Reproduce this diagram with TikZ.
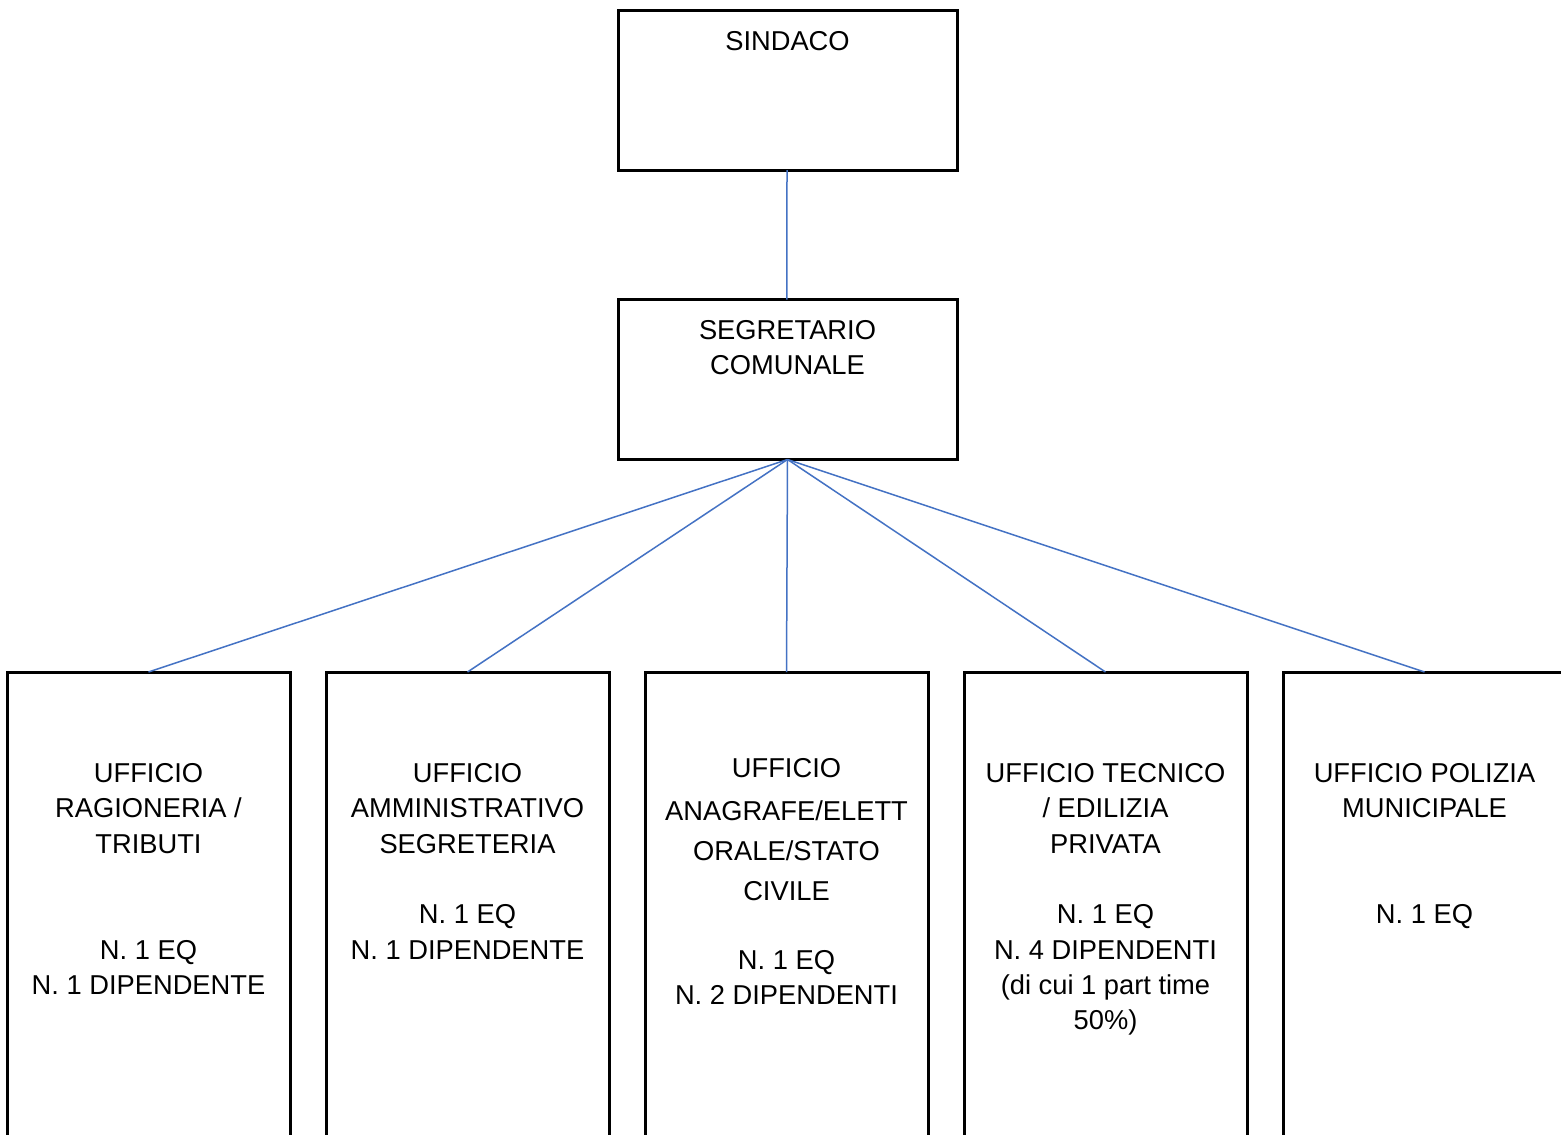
\documentclass[tikz,border=0pt]{standalone}
\usepackage{fontspec}
\setmainfont{Liberation Sans}
\definecolor{conncol}{HTML}{4472C4}
\begin{document}
\begin{tikzpicture}[x=1pt,y=-1pt,
  box/.style={draw=black, line width=3pt, rectangle, inner sep=0pt, outer sep=0pt, anchor=north west},
  topbox/.style={box, minimum width=339pt, minimum height=160pt},
  unitbox/.style={box, minimum width=283pt, minimum height=520pt},
  conn/.style={draw=conncol, line width=1.5pt},
  lbl/.style={align=center, inner sep=0pt, outer sep=0pt, anchor=north, font=\fontsize{27.3}{35.3}\selectfont}
]
\useasboundingbox (0,0) rectangle (1561,1135);
\clip (0,0) rectangle (1561,1135);
\fill[white] (0,0) rectangle (1561,1135);

% boxes
\node[topbox] (sindaco) at (618,10) {};
\node[topbox] (segr) at (618,299.5) {};
\node[unitbox] (u1) at (7,672) {};
\node[unitbox] (u2) at (326,672) {};
\node[unitbox] (u3) at (645,672) {};
\node[unitbox] (u4) at (964,672) {};
\node[unitbox] (u5) at (1283,672) {};

% labels
\node[lbl] (tsindaco) at (787.5,31.5) {SINDACO};
\node[lbl] (tsegr) at (787.5,320) {SEGRETARIO\\COMUNALE};
\node[lbl] (t1) at (148.5,763.5) {UFFICIO\\RAGIONERIA /\\TRIBUTI\\[70.6pt]N. 1 EQ\\N. 1 DIPENDENTE};
\node[lbl] (t2) at (467.5,763.5) {UFFICIO\\AMMINISTRATIVO\\SEGRETERIA\\[35.3pt]N. 1 EQ\\N. 1 DIPENDENTE};
\node[lbl] (t3) at (786.5,758.5) {UFFICIO\\[7.7pt]ANAGRAFE/ELETT\\[4.7pt]ORALE/STATO\\[4.7pt]CIVILE\\[33.7pt]N. 1 EQ\\N. 2 DIPENDENTI};
\node[lbl] (t4) at (1105.5,763.5) {UFFICIO TECNICO\\/ EDILIZIA\\PRIVATA\\[35.3pt]N. 1 EQ\\N. 4 DIPENDENTI\\(di cui 1 part time\\50\%)};
\node[lbl] (t5) at (1424.5,763.5) {UFFICIO POLIZIA\\MUNICIPALE\\[70.6pt]N. 1 EQ};

% connectors
\draw[conn] ([xshift=-0.5pt]sindaco.south) -- ([xshift=-0.6pt]segr.north);
\foreach \u in {u1,u2,u3,u4,u5}
  \draw[conn] (segr.south) -- (\u.north);
\end{tikzpicture}
\end{document}
